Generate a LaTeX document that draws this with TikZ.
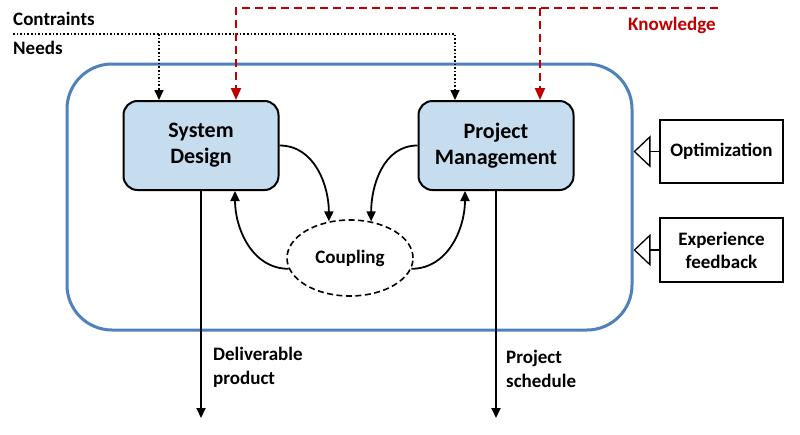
\documentclass[tikz,border=0pt]{standalone}
\usepackage{fontspec}
\setmainfont{Carlito}
\usetikzlibrary{arrows.meta,shapes.geometric}
\definecolor{boxblue}{RGB}{197,221,239}
\definecolor{frameblue}{RGB}{79,129,189}
\definecolor{kred}{RGB}{192,0,0}
\tikzset{
  proc/.style={draw=black, line width=2pt, fill=boxblue, rounded corners=14pt,
    minimum width=155pt, minimum height=89pt, align=center,
    font=\bfseries\fontsize{22}{26}\selectfont},
  optbox/.style={draw=black, line width=1.3pt, fill=white, minimum width=123pt,
    align=center, font=\bfseries\fontsize{19}{23}\selectfont},
  container/.style={draw=frameblue, line width=3pt, rounded corners=45pt,
    minimum width=565pt, minimum height=266pt},
  lbl/.style={font=\bfseries\fontsize{19}{23.5}\selectfont, inner sep=0pt},
  conn/.style={line width=1.8pt, -{Triangle[length=10pt,width=9pt]}},
  dotline/.style={line width=1.6pt, dash pattern=on 1.6pt off 2pt, -{Triangle[length=10pt,width=9pt]}},
  redline/.style={draw=kred, line width=2pt, dash pattern=on 8pt off 5pt, -{Triangle[length=12pt,width=10pt]}, kred},
  hollow/.style={line width=1.3pt, -{Triangle[open,length=17pt,width=32pt,fill=white]}}
}
\begin{document}
\begin{tikzpicture}[x=1pt,y=-1pt]
\useasboundingbox (0,0) rectangle (800,434);
\fill[white] (0,0) rectangle (800,434);

% container
\node[container] (sys) at (349.5,197) {};

% main boxes
\node[proc] (sd) at (201,145.5) {System\\Design};
\node[proc] (pm) at (496,145.5) {Project\\Management};
\node[draw, line width=1.6pt, dash pattern=on 6pt off 3.5pt, ellipse, minimum width=126pt, minimum height=76pt,
  font=\bfseries\fontsize{19}{23}\selectfont, fill=white] (cpl) at (350,258) {Coupling};

% side boxes
\node[optbox, minimum height=63pt] (opt) at (721.5,151.5) {Optimization};
\node[optbox, minimum height=64pt] (exp) at (721.5,250) {Experience\\feedback};
\draw[hollow] (opt.west) -- (sys.east |- opt.west);
\draw[hollow] (exp.west) -- (sys.east |- exp.west);

% top labels
\node[lbl, anchor=base west] (tcon) at (13,25) {Contraints};
\node[lbl, anchor=base west] (tneed) at (13,54) {Needs};
\node[lbl, anchor=base west, text=kred] (tknow) at (628,30) {Knowledge};

% dotted inputs
\coordinate (nL) at (13,34);
\coordinate (nJ) at (159,34);
\coordinate (nR) at (455,34);
\draw[dotline] (nL) -- (nR) -- (nR |- pm.north);
\draw[dotline] (nJ) -- (nJ |- sd.north);

% knowledge inputs
\coordinate (kR) at (718,8);
\coordinate (kJ) at (540,8);
\coordinate (kL) at (236,8);
\draw[redline] (kR) -- (kL) -- (kL |- sd.north);
\draw[redline] (kJ) -- (kJ |- pm.north);

% coupling loops
\draw[conn] (sd.east) to[out=0,in=90] (cpl.120);
\draw[conn] (pm.west) to[out=180,in=90] (cpl.60);
\coordinate (sdB) at (235,190);
\coordinate (pmB) at (465,190);
\draw[conn] (cpl.190) to[out=180,in=-90] (sdB |- sd.south);
\draw[conn] (cpl.-10) to[out=0,in=-90] (pmB |- pm.south);

% outputs
\coordinate (oD) at (201,418);
\coordinate (oP) at (496,418);
\draw[conn] (sd.south) -- (oD);
\draw[conn] (pm.south) -- (oP);
\node[lbl, anchor=base west, align=left] (tdel) at (213,384) {Deliverable\\product};
\node[lbl, anchor=base west, align=left] (tsch) at (506,387) {Project\\schedule};
\end{tikzpicture}
\end{document}
